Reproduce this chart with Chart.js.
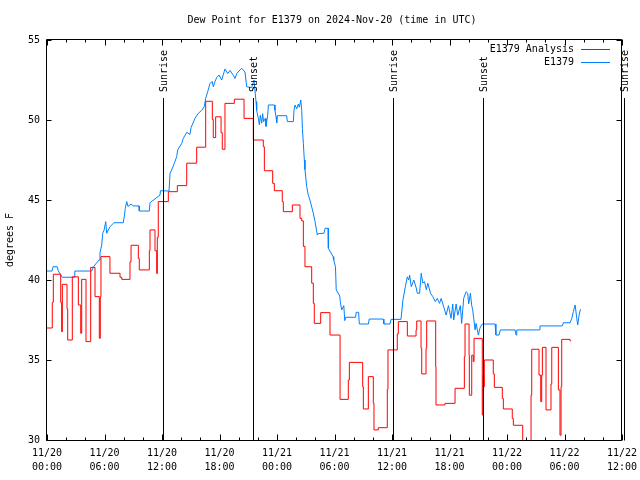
<!DOCTYPE html>
<html>
<head>
<meta charset="utf-8">
<script src="https://cdn.jsdelivr.net/npm/chart.js@4/dist/chart.umd.min.js"></script>
<style>
  html, body { margin: 0; padding: 0; background: #fff; }
  #wrap { width: 640px; height: 480px; }
</style>
</head>
<body>
<div id="wrap"><canvas id="dew-chart" width="640" height="480"></canvas></div>
<script>
var chartTitle = 'Dew Point for E1379 on 2024-Nov-20 (time in UTC)';
var yAxisTitle = 'degrees F';
var seriesNames = ['E1379 Analysis', 'E1379'];
var seriesColors = ['#ff0000', '#0080ff'];

// x values are hours since 11/20 00:00 UTC
var xTickHours = [0, 6, 12, 18, 24, 30, 36, 42, 48, 54, 60];
var xTickDates = ['11/20', '11/20', '11/20', '11/20', '11/21', '11/21', '11/21', '11/21', '11/22', '11/22', '11/22'];
var xTickTimes = ['00:00', '06:00', '12:00', '18:00', '00:00', '06:00', '12:00', '18:00', '00:00', '06:00', '12:00'];
var yTicks = [30, 35, 40, 45, 50, 55];

var sunHours = [12.14, 21.53, 36.14, 45.53, 60.24];
var sunLabels = ['Sunrise', 'Sunset', 'Sunrise', 'Sunset', 'Sunrise'];

// analysis (hourly steps)
var analysisHours = [
  0, 0.55, 0.66, 1.43, 1.53, 1.60, 2.09, 2.16, 2.64, 3.27,
  3.52, 3.62, 4.07, 4.56, 5.01, 5.46, 5.56, 5.63, 6.57, 7.62,
  7.80, 8.66, 8.77, 9.53, 9.63, 10.68, 10.75, 11.27, 11.45, 11.51,
  11.61, 12.66, 13.60, 14.58, 15.62, 16.56, 17.25, 17.35, 17.60, 18.16,
  18.29, 18.57, 19.55, 20.56, 21.53, 22.57, 22.68, 23.55, 23.72, 24.55,
  24.66, 25.60, 26.40, 26.58, 26.75, 26.92, 27.62, 27.79, 27.89, 28.56,
  29.53, 30.58, 31.44, 31.55, 32.94, 33.01, 33.53, 34.05, 34.12, 34.57,
  35.51, 35.58, 36.55, 36.66, 37.60, 38.51, 38.58, 39.03, 39.10, 39.55,
  39.62, 40.56, 40.59, 41.53, 42.58, 43.55, 43.62, 44.04, 44.07, 44.32,
  44.48, 44.56, 45.42, 45.50, 45.57, 45.63, 46.57, 46.68, 47.51, 47.62,
  48.55, 48.66, 49.64, 50.51, 50.58, 51.34, 51.52, 51.62, 51.69, 52.07,
  52.59, 52.67, 53.36, 53.53, 53.64, 53.71, 54.58, 54.65
];
var analysisDew = [
  37.0, 38.6, 40.36, 38.6, 36.77, 39.73, 38.2, 36.25, 40.2, 38.44,
  36.67, 40.04, 36.15, 40.79, 38.96, 36.36, 38.96, 41.46, 40.42, 40.17,
  40.04, 41.14, 42.17, 41.35, 40.63, 41.83, 43.13, 41.83, 40.4, 42.67,
  44.9, 45.52, 45.9, 47.3, 48.3, 51.17, 50.04, 48.9, 50.2, 49.2,
  48.17, 51.04, 51.3, 50.1, 48.75, 48.33, 46.83, 46.04, 45.58, 44.9,
  44.27, 44.69, 43.85, 43.7, 42.1, 40.83, 39.8, 38.54, 37.29, 37.96,
  36.56, 32.54, 33.75, 34.85, 33.33, 31.94, 33.96, 32.29, 30.63, 30.77,
  33.17, 35.63, 36.63, 37.4, 36.5, 36.88, 37.44, 35.73, 34.13, 35.73,
  37.44, 34.58, 32.19, 32.29, 33.23, 35.2, 37.25, 35.3, 32.8, 35.3,
  34.9, 36.35, 31.56, 34.06, 33.33, 35.0, 34.13, 33.29, 32.6, 31.94,
  31.35, 30.92, 29.0, 32.8, 35.67, 34.06, 32.4, 34.06, 35.79, 31.88,
  33.5, 35.79, 33.13, 30.3, 33.33, 36.29, 36.19, 36.19
];

// station observations
var stationHours = [
  0, 0.52, 0.63, 1.07, 1.18, 1.60, 2.85, 2.90, 4.66, 4.83,
  5.08, 5.43, 5.53, 5.71, 5.81, 5.95, 6.13, 6.23, 6.57, 6.99,
  7.96, 8.07, 8.17, 8.32, 8.45, 8.77, 9.01, 9.60, 9.63, 10.68,
  10.75, 11.79, 11.84, 12.73, 12.84, 13.01, 13.28, 13.53, 13.64, 14.06,
  14.22, 14.58, 14.92, 15.03, 15.44, 15.79, 16.14, 16.41, 16.56, 16.77,
  17.01, 17.25, 17.35, 17.53, 17.71, 17.95, 18.23, 18.57, 18.86, 19.10,
  19.44, 19.62, 19.80, 20.14, 20.32, 20.66, 20.84, 21.36, 21.60, 21.81,
  21.88, 22.05, 22.16, 22.26, 22.40, 22.50, 22.60, 22.78, 22.85, 23.03,
  23.10, 23.72, 23.79, 23.90, 23.97, 24.03, 25.01, 25.08, 25.70, 25.78,
  25.88, 26.06, 26.23, 26.33, 26.48, 26.58, 26.65, 26.75, 26.85, 26.92,
  27.10, 27.27, 27.44, 27.79, 27.97, 28.21, 28.30, 28.90, 29.02, 29.33,
  29.36, 29.85, 29.92, 30.10, 30.18, 30.55, 30.60, 30.75, 30.97, 31.07,
  31.16, 32.20, 32.26, 32.52, 32.59, 33.54, 33.62, 35.08, 35.15, 35.79,
  35.90, 36.94, 37.14, 37.39, 37.60, 37.74, 37.84, 38.01, 38.28, 38.53,
  38.64, 38.88, 39.05, 39.22, 39.39, 39.58, 39.74, 40.02, 40.26, 40.51,
  40.72, 40.96, 41.13, 41.41, 41.65, 41.89, 42.16, 42.34, 42.44, 42.69,
  42.86, 43.13, 43.27, 43.48, 43.73, 43.90, 44.00, 44.18, 44.32, 44.42,
  44.53, 44.67, 44.77, 45.01, 45.18, 45.35, 45.42, 46.76, 46.84, 47.17,
  47.31, 48.84, 48.94, 49.02, 51.34, 51.44, 53.77, 53.88, 54.58, 54.76,
  54.92, 55.11, 55.28, 55.38, 55.52, 55.66
];
var stationDew = [
  40.56, 40.56, 40.83, 40.83, 40.56, 40.17, 40.17, 40.56, 40.56, 40.79,
  41.0, 41.25, 41.7, 42.19, 42.92, 43.1, 43.65, 42.92, 43.33, 43.58,
  43.58, 44.0, 44.48, 44.9, 44.6, 44.75, 44.63, 44.63, 44.31, 44.31,
  44.83, 45.31, 45.58, 45.56, 46.67, 46.88, 47.29, 47.7, 48.13, 48.54,
  48.85, 49.23, 49.1, 49.52, 50.1, 50.42, 50.6, 50.83, 51.35, 51.77,
  52.29, 52.4, 52.08, 52.4, 52.65, 52.81, 52.5, 53.19, 52.9, 53.1,
  52.8, 52.6, 52.9, 53.13, 53.23, 53.0, 52.08, 52.02, 52.5, 51.15,
  50.6, 50.1, 49.7, 50.3, 49.8, 50.4, 49.9, 50.1, 49.6, 50.3,
  50.94, 50.94, 50.6, 50.2, 49.83, 50.27, 50.27, 49.9, 49.9, 50.63,
  50.94, 50.7, 51.0, 50.8, 51.25, 50.6, 49.48, 48.54, 47.5, 46.9,
  45.83, 45.3, 45.0, 44.17, 43.65, 42.81, 42.9, 42.92, 43.23, 43.23,
  41.98, 41.46, 41.25, 40.83, 39.38, 39.0, 38.65, 38.13, 38.4, 37.46,
  37.67, 37.67, 37.98, 37.98, 37.25, 37.25, 37.56, 37.56, 37.25, 37.25,
  37.54, 37.54, 38.75, 39.58, 40.2, 40.0, 40.31, 39.58, 40.0, 39.5,
  39.17, 39.17, 40.42, 39.8, 39.9, 39.4, 39.8, 39.17, 38.96, 38.65,
  38.85, 38.54, 38.85, 38.3, 37.81, 38.4, 37.6, 38.5, 37.5, 38.5,
  37.8, 38.4, 37.29, 38.85, 39.27, 39.17, 38.5, 39.17, 38.4, 38.13,
  37.6, 36.88, 37.29, 36.56, 37.0, 37.19, 37.25, 37.25, 36.56, 36.56,
  36.88, 36.88, 36.56, 36.88, 36.88, 37.13, 37.13, 37.33, 37.33, 37.6,
  38.02, 38.44, 37.6, 37.19, 37.8, 38.17
];

function toPoints(xs, ys) {
  var pts = [];
  for (var i = 0; i < xs.length; i++) {
    pts.push({ x: xs[i], y: ys[i] });
  }
  return pts;
}

Chart.defaults.font.family = "'DejaVu Sans Mono', monospace";
Chart.defaults.font.size = 10;
Chart.defaults.color = '#000';

// frame, inward ticks, sun lines, title and legend (gnuplot look)
var decorPlugin = {
  id: 'decor',
  afterDraw: function (chart) {
    var ctx = chart.ctx;
    var area = chart.chartArea;
    var xs = chart.scales.x;
    var ys = chart.scales.y;
    var L = Math.round(area.left) - 0.5;
    var R = Math.round(area.right) - 0.5;
    var T = Math.round(area.top) - 0.5;
    var B = Math.round(area.bottom) + 0.5;
    ctx.save();
    ctx.strokeStyle = '#000';
    ctx.fillStyle = '#000';
    ctx.lineWidth = 1;
    ctx.beginPath();
    ctx.rect(L, T, R - L, B - T);
    // x ticks every 2 hours, longer at labelled ones
    for (var h = xTickHours[0]; h <= xTickHours[xTickHours.length - 1]; h += 2) {
      var px = Math.round(xs.getPixelForValue(h)) + 0.5;
      var len = (h % 6 === 0) ? 6 : 3;
      ctx.moveTo(px, B); ctx.lineTo(px, B - len);
      ctx.moveTo(px, T); ctx.lineTo(px, T + len);
    }
    yTicks.forEach(function (v) {
      var py = Math.round(ys.getPixelForValue(v)) + 0.5;
      ctx.moveTo(L, py); ctx.lineTo(L + 5, py);
      ctx.moveTo(R, py); ctx.lineTo(R - 5, py);
    });
    ctx.stroke();

    // sunrise / sunset markers
    ctx.font = "10px 'DejaVu Sans Mono'";
    ctx.beginPath();
    sunHours.forEach(function (h, i) {
      var px = Math.round(xs.getPixelForValue(h)) + 0.5;
      ctx.moveTo(px, area.top + 58);
      ctx.lineTo(px, B);
    });
    ctx.stroke();
    ctx.textAlign = 'left';
    ctx.textBaseline = 'middle';
    sunHours.forEach(function (h, i) {
      var px = Math.round(xs.getPixelForValue(h)) + 1;
      ctx.save();
      ctx.translate(px, area.top + 52);
      ctx.rotate(-Math.PI / 2);
      ctx.fillText(sunLabels[i], 0, 0);
      ctx.restore();
    });

    // title
    ctx.textAlign = 'center';
    ctx.fillText(chartTitle, 332, 20);

    // y axis title
    ctx.save();
    ctx.translate(10, 240);
    ctx.rotate(-Math.PI / 2);
    ctx.fillText(yAxisTitle, 0, 0);
    ctx.restore();

    // legend
    ctx.textAlign = 'right';
    chart.data.datasets.forEach(function (ds, i) {
      var ly = 49.5 + i * 13;
      ctx.fillStyle = '#000';
      ctx.fillText(ds.label, 574, ly);
      ctx.strokeStyle = ds.borderColor;
      ctx.beginPath();
      ctx.moveTo(581, ly);
      ctx.lineTo(610, ly);
      ctx.stroke();
    });
    ctx.restore();
  }
};

var ctx = document.getElementById('dew-chart').getContext('2d');
new Chart(ctx, {
  type: 'line',
  data: {
    datasets: [{
      label: seriesNames[0],
      data: toPoints(analysisHours, analysisDew),
      borderColor: seriesColors[0],
      borderWidth: 1,
      pointRadius: 0,
      stepped: 'before',
      fill: false
    }, {
      label: seriesNames[1],
      data: toPoints(stationHours, stationDew),
      borderColor: seriesColors[1],
      borderWidth: 1,
      pointRadius: 0,
      tension: 0,
      fill: false
    }]
  },
  options: {
    responsive: false,
    animation: false,
    layout: { padding: { top: 40, right: 18, left: 0, bottom: 0 } },
    plugins: {
      legend: { display: false },
      title: { display: false },
      tooltip: { enabled: false }
    },
    scales: {
      x: {
        type: 'linear',
        min: 0,
        max: 60,
        afterFit: function (scale) {
          scale.height = 40;
          // keep the last label from shrinking the plot area
          scale.paddingLeft = 0;
          scale.paddingRight = 0;
        },
        afterBuildTicks: function (scale) {
          scale.ticks = xTickHours.map(function (h) { return { value: h }; });
        },
        ticks: {
          maxRotation: 0,
          autoSkip: false,
          padding: 6,
          font: { lineHeight: 1.4 },
          callback: function (value, index) {
            return [xTickDates[index], xTickTimes[index]];
          }
        },
        grid: { display: false, drawTicks: false },
        border: { display: false }
      },
      y: {
        min: 30,
        max: 55,
        afterFit: function (scale) { scale.width = 47; },
        afterBuildTicks: function (scale) {
          scale.ticks = yTicks.map(function (v) { return { value: v }; });
        },
        ticks: { padding: 7 },
        grid: { display: false, drawTicks: false },
        border: { display: false }
      }
    }
  },
  plugins: [decorPlugin]
});
</script>
</body>
</html>
